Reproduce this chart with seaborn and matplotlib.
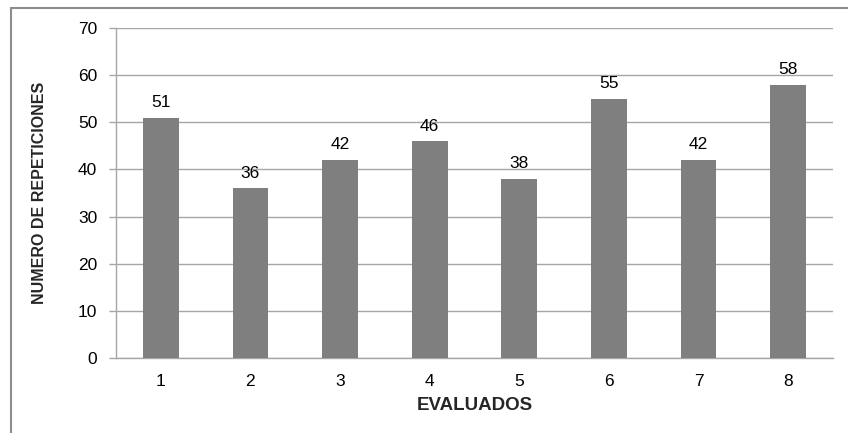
import matplotlib
matplotlib.use("Agg")
import matplotlib.pyplot as plt
from matplotlib.lines import Line2D
import seaborn as sns
import pandas as pd

evaluados = ["1", "2", "3", "4", "5", "6", "7", "8"]
repeticiones = [51, 36, 42, 46, 38, 55, 42, 58]
y_ticks = [0, 10, 20, 30, 40, 50, 60, 70]

sns.set_theme(style="white")
plt.rcParams["font.family"] = ["Liberation Sans", "DejaVu Sans"]

df = pd.DataFrame({"evaluado": evaluados, "repeticiones": repeticiones})

fig = plt.figure(figsize=(8.48, 4.33), dpi=100)
ax = fig.add_axes([116 / 848, 1 - 358 / 433, (833 - 116) / 848, (358 - 28) / 433])

sns.barplot(data=df, x="evaluado", y="repeticiones", color="#7f7f7f",
            width=0.4, saturation=1, ax=ax, zorder=3)
for p in ax.patches:
    p.set_edgecolor("none")

ax.set_ylim(0, 70)
ax.set_yticks(y_ticks)
ax.set_xlim(-0.5, len(evaluados) - 0.5)
ax.yaxis.grid(True, color="#a6a6a6", linewidth=1.0, zorder=0)
ax.xaxis.grid(False)

for s in ["top", "right"]:
    ax.spines[s].set_visible(False)
for s in ["left", "bottom"]:
    ax.spines[s].set_color("#a6a6a6")
    ax.spines[s].set_linewidth(1.0)

ax.tick_params(axis="y", left=True, length=5, width=1.0, color="#a6a6a6",
               labelsize=12.5, labelcolor="black", pad=8.5)
ax.tick_params(axis="x", bottom=False, labelsize=12.5, labelcolor="black", pad=5.5)

for i, v in enumerate(repeticiones):
    ax.annotate(str(v), (i, v), xytext=(0, 5.5), textcoords="offset points",
                ha="center", va="bottom", fontsize=12.5, color="black")

ax.set_xlabel("EVALUADOS", fontsize=13.5, fontweight="bold")
ax.set_ylabel("NUMERO DE REPETICIONES", fontsize=11.5, fontweight="bold")
ax.xaxis.label.set_va("center")
ax.yaxis.label.set_va("center")
ax.xaxis.set_label_coords(0.5, (358 - 405) / 330)
ax.yaxis.set_label_coords((40 - 116) / 717, 0.5)

# outer chart frame
fig.add_artist(Line2D([11 / 848, 11 / 848], [0, 1 - 8 / 433], transform=fig.transFigure,
                      color="#8c8c8c", linewidth=1.5))
fig.add_artist(Line2D([11 / 848, 1], [1 - 8 / 433, 1 - 8 / 433], transform=fig.transFigure,
                      color="#8c8c8c", linewidth=1.5))

fig.savefig("out.png", dpi=100, facecolor="white")
